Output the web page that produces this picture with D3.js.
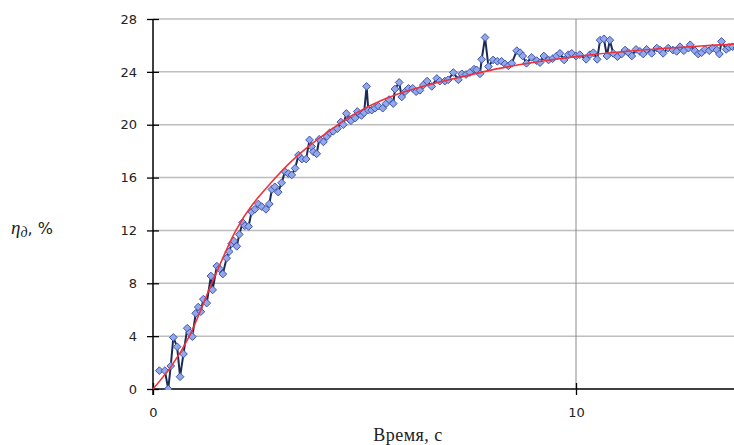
<!DOCTYPE html>
<html><head><meta charset="utf-8">
<script src="https://cdn.jsdelivr.net/npm/d3@7"></script>
<style>html,body{margin:0;padding:0;background:#fff;overflow:hidden}</style>
</head><body>
<svg id="chart" width="734" height="445"></svg>
<script>
// Measured series: time (s) and efficiency (%)
const timeValues = [0.15,0.28,0.36,0.42,0.48,0.57,0.64,0.72,0.81,0.87,0.93,1.01,1.07,1.13,1.19,1.27,1.37,1.41,1.51,1.57,1.65,1.74,1.80,1.86,1.91,1.98,2.04,2.12,2.17,2.26,2.33,2.41,2.49,2.57,2.67,2.75,2.81,2.88,2.96,3.04,3.12,3.20,3.28,3.36,3.44,3.52,3.62,3.70,3.75,3.79,3.87,3.93,4.03,4.11,4.18,4.26,4.36,4.44,4.50,4.57,4.64,4.68,4.78,4.83,4.93,4.99,5.05,5.09,5.17,5.25,5.33,5.43,5.51,5.58,5.68,5.72,5.82,5.88,5.96,6.04,6.14,6.22,6.31,6.39,6.48,6.59,6.71,6.78,6.90,6.98,7.10,7.22,7.30,7.40,7.49,7.59,7.65,7.73,7.77,7.85,7.93,8.04,8.14,8.24,8.32,8.40,8.48,8.60,8.68,8.74,8.83,8.95,9.07,9.15,9.24,9.35,9.45,9.54,9.62,9.72,9.82,9.90,10.00,10.09,10.24,10.33,10.41,10.50,10.57,10.66,10.73,10.80,10.88,10.98,11.08,11.16,11.24,11.32,11.42,11.51,11.59,11.67,11.79,11.91,11.99,12.06,12.18,12.29,12.38,12.46,12.55,12.66,12.70,12.81,12.89,12.97,13.05,13.15,13.23,13.33,13.39,13.44,13.55,13.62,13.70,13.80];
const etaValues = [1.39,1.39,0,1.74,3.9,3.2,0.93,2.65,4.6,4.26,3.96,5.73,6.2,5.85,6.8,6.5,8.55,7.5,9.3,9.1,8.7,9.9,10.4,11.0,11.2,10.8,11.7,12.6,12.35,12.3,13.4,13.6,14.0,13.8,13.6,14.0,15.1,15.3,14.9,15.6,16.45,16.3,16.2,16.7,17.7,17.4,17.4,18.85,18.35,17.95,17.8,18.9,18.7,19.1,19.4,19.5,19.7,20.2,20.0,20.85,20.4,20.3,20.5,21.0,20.7,20.9,22.9,21.1,21.1,21.25,21.4,21.25,21.6,21.9,21.6,22.7,23.2,22.1,22.5,22.75,22.75,22.5,22.6,23.0,23.3,22.9,23.5,23.3,23.3,23.4,23.95,23.4,23.85,23.8,23.95,24.2,24.15,23.85,24.95,26.6,24.4,24.9,24.8,24.8,24.6,24.45,24.65,25.6,25.45,25.2,24.65,25.1,24.85,24.7,25.2,24.9,25.0,25.2,25.4,24.9,25.3,25.4,25.2,25.3,24.95,25.3,25.45,24.95,26.4,26.5,25.2,26.4,25.4,25.15,25.35,25.65,25.45,25.2,25.7,25.55,25.35,25.7,25.4,25.8,25.65,25.4,25.8,25.65,25.55,25.9,25.6,25.8,26.05,25.6,25.35,25.45,25.7,25.6,25.8,25.65,25.35,26.3,25.7,25.85,25.9,25.8];
// Approximation curve (red), read at gridline crossings
const fitTime = [0,0.86,1.39,1.96,2.9,4.37,7.8,10.0,13.7,15.0];
const fitEta  = [0,4.0,8.0,12.0,16.0,20.0,24.0,25.15,26.1,26.35];
const yTicks = [0,4,8,12,16,20,24,28];
const xTicks = [0,10];

(function(){
const svg = d3.select("#chart");
const mLeft = 153, mBottom = 389, mTop = 19, mRight = 734;
const x = d3.scaleLinear().domain([0,10]).range([mLeft,576]);
const y = d3.scaleLinear().domain([0,28]).range([mBottom,mTop]);

// horizontal gridlines
svg.append("g").selectAll("line").data(yTicks.filter(d=>d>0)).join("line")
  .attr("x1",mLeft).attr("x2",mRight).attr("y1",d=>y(d)).attr("y2",d=>y(d))
  .attr("stroke","#bdbdbd").attr("stroke-width",1.5);
// vertical gridline
svg.append("g").selectAll("line").data(xTicks.filter(d=>d>0)).join("line")
  .attr("x1",d=>x(d)).attr("x2",d=>x(d)).attr("y1",mTop).attr("y2",mBottom)
  .attr("stroke","#8a8a8a").attr("stroke-width",1);

// axes
const yAxis = svg.append("g").attr("transform",`translate(${mLeft},0)`)
  .call(d3.axisLeft(y).tickValues(yTicks).tickSize(6).tickPadding(10).tickSizeOuter(0));
yAxis.select(".domain").attr("d",`M0,${mTop}V${mBottom+6}`).attr("stroke","#000").attr("stroke-width",1.5);
yAxis.selectAll(".tick line").attr("x1",-6).attr("x2",6).attr("stroke","#000").attr("stroke-width",1.3);
yAxis.selectAll(".tick text").attr("font-family","DejaVu Sans, Verdana, sans-serif").attr("font-size",13).attr("fill","#222").attr("x",-16);

const xAxis = svg.append("g").attr("transform",`translate(0,${mBottom})`)
  .call(d3.axisBottom(x).tickValues(xTicks).tickSize(6).tickPadding(10).tickSizeOuter(0));
xAxis.select(".domain").attr("d",`M${mLeft},0H${mRight}`).attr("stroke","#000").attr("stroke-width",1.5);
xAxis.selectAll(".tick line").attr("y1",-6).attr("y2",6).attr("stroke","#000").attr("stroke-width",1.3);
xAxis.selectAll(".tick text").attr("font-family","DejaVu Sans, Verdana, sans-serif").attr("font-size",13).attr("fill","#222").attr("dy","0.9em");

const data = timeValues.map((t,i)=>({t, v: etaValues[i]}));
const fit = fitTime.map((t,i)=>({t, v: fitEta[i]}));

svg.append("defs").append("clipPath").attr("id","clip").append("rect")
  .attr("x",mLeft-6).attr("y",0).attr("width",mRight-mLeft+6).attr("height",mBottom+1);

const plot = svg.append("g").attr("clip-path","url(#clip)");
plot.append("path").datum(data)
  .attr("d", d3.line().x(d=>x(d.t)).y(d=>y(d.v)))
  .attr("fill","none").attr("stroke","#1a2b55").attr("stroke-width",2);
const sym = d3.symbol().type(d3.symbolDiamond2).size(38);
plot.append("g").selectAll("path").data(data).join("path")
  .attr("transform",d=>`translate(${x(d.t)},${y(d.v)})`)
  .attr("d",sym).attr("fill","#93a8ec").attr("stroke","#3e55a8").attr("stroke-width",1);
plot.append("path").datum(fit)
  .attr("d", d3.line().curve(d3.curveMonotoneX).x(d=>x(d.t)).y(d=>y(d.v)))
  .attr("fill","none").attr("stroke","#f0303a").attr("stroke-width",1.6);

// axis titles
svg.append("text").attr("x",408).attr("y",441).attr("text-anchor","middle")
  .attr("font-family","Liberation Serif, Times New Roman, serif").attr("font-size",18).attr("letter-spacing",0.5).attr("fill","#222")
  .text("Время, с");
const yt = svg.append("text").attr("x",11).attr("y",234)
  .attr("font-family","Liberation Serif, Times New Roman, serif").attr("font-size",19).attr("fill","#222");
yt.append("tspan").attr("font-style","italic").text("η");
yt.append("tspan").attr("font-style","italic").attr("font-size",14).attr("dy",3).text("д");
yt.append("tspan").attr("dy",-3).attr("font-family","DejaVu Sans, Verdana, sans-serif").attr("font-size",16).text(", %");
})();
</script>
</body></html>
